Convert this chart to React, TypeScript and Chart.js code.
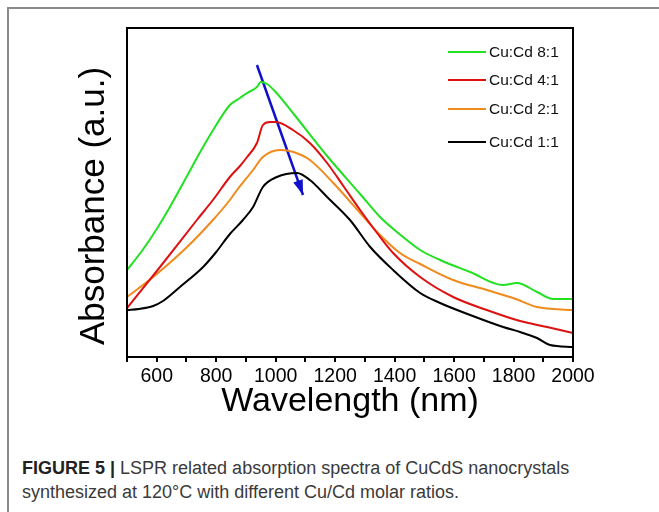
import React, { useEffect, useRef } from "react";
import { Chart, registerables } from "chart.js";

Chart.register(...registerables);

// ---- data ----
const seriesLabels = ["Cu:Cd 8:1", "Cu:Cd 4:1", "Cu:Cd 2:1", "Cu:Cd 1:1"];

const wl8 = [500, 550, 600, 650, 700, 750, 800, 846, 880, 904, 937, 950, 971, 1000, 1058, 1173, 1284, 1351, 1420, 1486, 1553, 1654, 1765, 1812, 1879, 1934, 2000];
const abs8 = [0.87, 1.06, 1.28, 1.53, 1.8, 2.07, 2.32, 2.52, 2.59, 2.64, 2.7, 2.75, 2.73, 2.65, 2.44, 2.01, 1.63, 1.4, 1.22, 1.07, 0.97, 0.85, 0.72, 0.74, 0.65, 0.58, 0.58];

const wl4 = [500, 611, 735, 789, 846, 880, 904, 937, 957, 981, 1000, 1058, 1115, 1173, 1230, 1284, 1341, 1395, 1486, 1597, 1710, 1822, 1913, 2000];
const abs4 = [0.49, 0.9, 1.37, 1.57, 1.8, 1.91, 2.0, 2.14, 2.32, 2.35, 2.35, 2.27, 2.14, 1.94, 1.7, 1.47, 1.24, 1.04, 0.8, 0.6, 0.47, 0.36, 0.3, 0.24];

const wl2 = [500, 588, 702, 789, 846, 870, 924, 957, 1015, 1060, 1115, 1194, 1284, 1341, 1418, 1486, 1597, 1710, 1799, 1879, 2000];
const abs2 = [0.6, 0.8, 1.1, 1.37, 1.57, 1.67, 1.87, 2.0, 2.07, 2.05, 1.97, 1.74, 1.44, 1.25, 1.04, 0.93, 0.77, 0.67, 0.59, 0.5, 0.47];

const wl1 = [500, 540, 588, 621, 678, 756, 800, 846, 890, 924, 957, 1004, 1072, 1115, 1173, 1250, 1318, 1395, 1486, 1553, 1654, 1765, 1822, 1879, 1923, 2000];
const abs1 = [0.47, 0.48, 0.51, 0.56, 0.7, 0.9, 1.05, 1.23, 1.37, 1.5, 1.7, 1.8, 1.84, 1.77, 1.6, 1.37, 1.1, 0.87, 0.64, 0.54, 0.42, 0.3, 0.25, 0.19, 0.12, 0.1];

const arrowWl = [937, 1092];
const arrowAbs = [2.92, 1.62];

const xMin = 500;
const xMax = 2000;
const xStep = 100;
const yMin = 0;
const yMax = 3.29;

const xTitle = "Wavelength (nm)";
const yTitle = "Absorbance (a.u.)";

// ---- styles ----
const seriesColors = ["#22e022", "#dd1111", "#f08a1c", "#000000"];
const arrowColor = "#1010cc";
const FONT = '"Liberation Sans", Arial, Helvetica, sans-serif';

const toPts = (xs: number[], ys: number[]) => xs.map((x, i) => ({ x, y: ys[i] }));

const framePlugin = {
  id: "frame",
  afterDraw(chart: any) {
    const { ctx, chartArea } = chart;
    ctx.save();
    ctx.strokeStyle = "#000";
    ctx.lineWidth = 2;
    ctx.strokeRect(chartArea.left, chartArea.top, chartArea.right - chartArea.left, chartArea.bottom - chartArea.top);
    // y title
    ctx.translate(chartArea.left - 23.5, (chartArea.top + chartArea.bottom) / 2 + 13.5);
    ctx.rotate(-Math.PI / 2);
    ctx.font = `35px ${FONT}`;
    ctx.fillStyle = "#000";
    ctx.textAlign = "center";
    ctx.textBaseline = "alphabetic";
    ctx.fillText(yTitle, 0, 0);
    ctx.restore();
  },
};

const legendPlugin = {
  id: "insideLegend",
  afterDatasetsDraw(chart: any) {
    const { ctx, chartArea } = chart;
    const rows = [24, 52, 81, 114];
    ctx.save();
    ctx.font = `15.5px ${FONT}`;
    ctx.textBaseline = "middle";
    ctx.textAlign = "left";
    chart.data.datasets.slice(0, 4).forEach((ds: any, i: number) => {
      const y = chartArea.top + rows[i];
      ctx.strokeStyle = ds.borderColor;
      ctx.lineWidth = 2;
      ctx.beginPath();
      ctx.moveTo(chartArea.right - 125, y);
      ctx.lineTo(chartArea.right - 87, y);
      ctx.stroke();
      ctx.fillStyle = "#111";
      ctx.fillText(ds.label, chartArea.right - 84, y + 0.5);
    });
    ctx.restore();
  },
};

const arrowPlugin = {
  id: "arrowHead",
  afterDatasetsDraw(chart: any) {
    const meta = chart.getDatasetMeta(4);
    if (!meta || !meta.data || meta.data.length < 2) return;
    const a = meta.data[0];
    const b = meta.data[meta.data.length - 1];
    const ang = Math.atan2(b.y - a.y, b.x - a.x);
    const len = 15;
    const half = 5;
    const { ctx } = chart;
    ctx.save();
    ctx.fillStyle = arrowColor;
    ctx.translate(b.x, b.y);
    ctx.rotate(ang);
    ctx.beginPath();
    ctx.moveTo(0, 0);
    ctx.lineTo(-len, -half);
    ctx.lineTo(-len, half);
    ctx.closePath();
    ctx.fill();
    ctx.restore();
  },
};

function SpectraChart() {
  const ref = useRef<HTMLCanvasElement | null>(null);
  useEffect(() => {
    if (!ref.current) return;
    const series = [
      toPts(wl8, abs8),
      toPts(wl4, abs4),
      toPts(wl2, abs2),
      toPts(wl1, abs1),
    ];
    const datasets: any[] = series.map((d, i) => ({
      label: seriesLabels[i],
      data: d,
      borderColor: seriesColors[i],
      backgroundColor: seriesColors[i],
      borderWidth: 2,
      pointRadius: 0,
      cubicInterpolationMode: "monotone",
      fill: false,
    }));
    datasets.push({
      label: "arrow",
      data: toPts(arrowWl, arrowAbs),
      borderColor: arrowColor,
      borderWidth: 2.5,
      pointRadius: 0,
      tension: 0,
      fill: false,
    });
    const chart = new Chart(ref.current, {
      type: "line",
      data: { datasets },
      plugins: [framePlugin, legendPlugin, arrowPlugin],
      options: {
        animation: false,
        responsive: false,
        layout: { padding: { left: 0, top: 28, right: 86, bottom: 0 } },
        plugins: { legend: { display: false }, tooltip: { enabled: false }, title: { display: false } },
        scales: {
          x: {
            type: "linear",
            min: xMin,
            max: xMax,
            afterFit: (s: any) => {
              s.height = 73;
            },
            border: { display: false },
            grid: { display: true, drawOnChartArea: false, drawTicks: true, tickLength: 5, color: "#000", lineWidth: 2 },
            ticks: {
              stepSize: xStep,
              autoSkip: false,
              maxRotation: 0,
              padding: 3,
              color: "#000",
              font: { family: FONT, size: 19.5 },
              callback: (v: any) => (Number(v) % 200 === 0 && Number(v) > xMin ? String(v) : ""),
            },
            title: {
              display: true,
              text: xTitle,
              color: "#000",
              font: { family: FONT, size: 34 },
              padding: { top: 0, bottom: 8.4 },
            },
          },
          y: {
            type: "linear",
            min: yMin,
            max: yMax,
            afterFit: (s: any) => {
              s.width = 127;
            },
            border: { display: false },
            grid: { display: false },
            ticks: { display: false },
          },
        },
      },
    });
    return () => chart.destroy();
  }, []);
  return <canvas ref={ref} width={659} height={430} style={{ position: "absolute", left: 0, top: 0 }} />;
}

export default function App() {
  return (
    <div style={{ position: "absolute", left: 0, top: 0, width: 659, height: 512, background: "#fff", overflow: "hidden" }}>
      <div
        style={{
          position: "absolute",
          left: 7,
          top: 7,
          width: 700,
          height: 600,
          borderLeft: "2px solid #8a8a8a",
          borderTop: "2px solid #8a8a8a",
        }}
      />
      <SpectraChart />
      <div
        style={{
          position: "absolute",
          left: 22,
          top: 456,
          fontFamily: FONT,
          fontSize: 18,
          lineHeight: "24px",
          color: "#3a3a3a",
          whiteSpace: "nowrap",
        }}
      >
        <span style={{ fontWeight: "bold", color: "#222" }}>FIGURE 5 |</span> LSPR related absorption spectra of CuCdS nanocrystals
        <br />
        synthesized at 120°C with different Cu/Cd molar ratios.
      </div>
    </div>
  );
}
